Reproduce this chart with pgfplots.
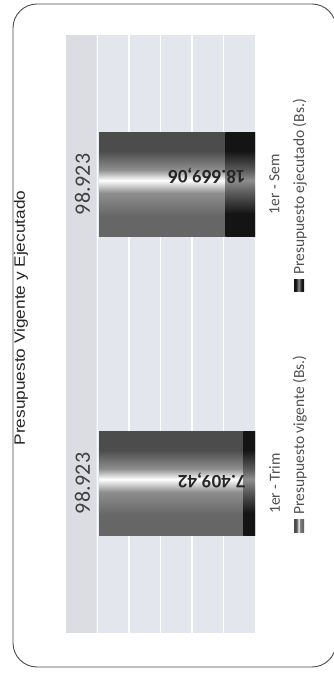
\documentclass[border=0pt]{standalone}
\usepackage{pgfplots}
\pgfplotsset{compat=1.18}
\usepackage{fontspec}
\setmainfont{Carlito}
\newfontfamily\titlefont[FakeStretch=1.15]{Liberation Sans}
\definecolor{bg}{HTML}{E4E6EE}
\definecolor{band}{HTML}{DCDDE2}
\definecolor{txt}{HTML}{505050}
\definecolor{g1}{HTML}{4C4C4C}
\definecolor{g2}{HTML}{8E8E8E}
\definecolor{g3}{HTML}{666666}
\definecolor{d1}{HTML}{141414}
\definecolor{d2}{HTML}{5A5A5A}
\pgfdeclareverticalshading{vigshade}{100bp}{color(0bp)=(g3); color(25bp)=(g3); color(35bp)=(g3); color(46bp)=(g2); color(52bp)=(white); color(57bp)=(g2); color(66bp)=(g1); color(75bp)=(g1); color(100bp)=(g1)}
\pgfdeclareverticalshading{ejeshade}{100bp}{color(0bp)=(d1); color(25bp)=(d1); color(36bp)=(d1); color(46bp)=(d2); color(52bp)=(g2); color(57bp)=(d2); color(66bp)=(d1); color(75bp)=(d1); color(100bp)=(d1)}
\pgfplotsset{
  vigbar/.style={xbar, bar width=0.351, bar shift=0pt, draw=none, shade, shading=vigshade,
    point meta=explicit symbolic, nodes near coords,
    nodes near coords style={rotate=90, anchor=south, inner sep=9pt, text=black!75, font=\fontsize{22}{26}\selectfont}},
  ejebar/.style={xbar, bar width=0.351, bar shift=0pt, draw=none, shade, shading=ejeshade},
}
\begin{document}
\begin{tikzpicture}
\useasboundingbox (0pt,0pt) rectangle (333pt,677pt);
\fill[white] (0pt,0pt) rectangle (333pt,677pt);
\draw[line width=0.9pt, color=black!70, rounded corners=24pt] (13pt,10pt) rectangle (336pt,673pt);
\begin{axis}[
  at={(66pt,44pt)}, anchor=south west,
  scale only axis, width=189pt, height=598pt,
  xmin=0, xmax=120000, x dir=reverse,
  ymin=-0.5, ymax=1.5,
  axis background/.style={fill=bg},
  axis line style={draw=none},
  xtick={20000,40000,60000,80000,100000}, xticklabels={},
  scaled x ticks=false,
  xmajorgrids, grid style={white, line width=1.5pt},
  major tick length=0pt,
  ytick={0,1}, yticklabels={1er - Trim, 1er - Sem},
  yticklabel pos=right,
  yticklabel style={rotate=90, anchor=north, inner sep=14pt, text=txt, font=\fontsize{15.5}{18}\selectfont},
  clip=false,
]
\fill[band] (axis cs:100700,-0.5) rectangle (axis cs:120000,1.5);
\addplot[vigbar] coordinates {(98923,0) [98.923]};
\addplot[vigbar] coordinates {(98923,1) [98.923]};
\addplot[ejebar] coordinates {(7409.42,0)};
\addplot[ejebar] coordinates {(18669.06,1)};
\addplot[draw=none, mark=none, point meta=explicit symbolic, nodes near coords,
  nodes near coords style={rotate=180, anchor=west, inner sep=0pt, text=black!85, font=\bfseries\fontsize{19}{22}\selectfont}]
  coordinates {(5800,0.01) [7.409,42] (5800,1.03) [18.669,06]};
\end{axis}
\node[rotate=90, anchor=center, font=\titlefont\fontsize{15}{18}\selectfont, text=black!85] at (21pt,359pt) {Presupuesto Vigente y Ejecutado};
\shade[shading=vigshade, shading angle=90] (294pt,144pt) rectangle (304pt,157pt);
\node[rotate=90, anchor=base west, inner sep=0pt, text=txt, font=\fontsize{15.5}{18}\selectfont] at (304pt,162pt) {Presupuesto vigente (Bs.)};
\shade[shading=ejeshade, shading angle=90] (294pt,385pt) rectangle (304pt,397pt);
\node[rotate=90, anchor=base west, inner sep=0pt, text=txt, font=\fontsize{15.5}{18}\selectfont] at (304pt,402pt) {Presupuesto ejecutado (Bs.)};
\end{tikzpicture}
\end{document}
